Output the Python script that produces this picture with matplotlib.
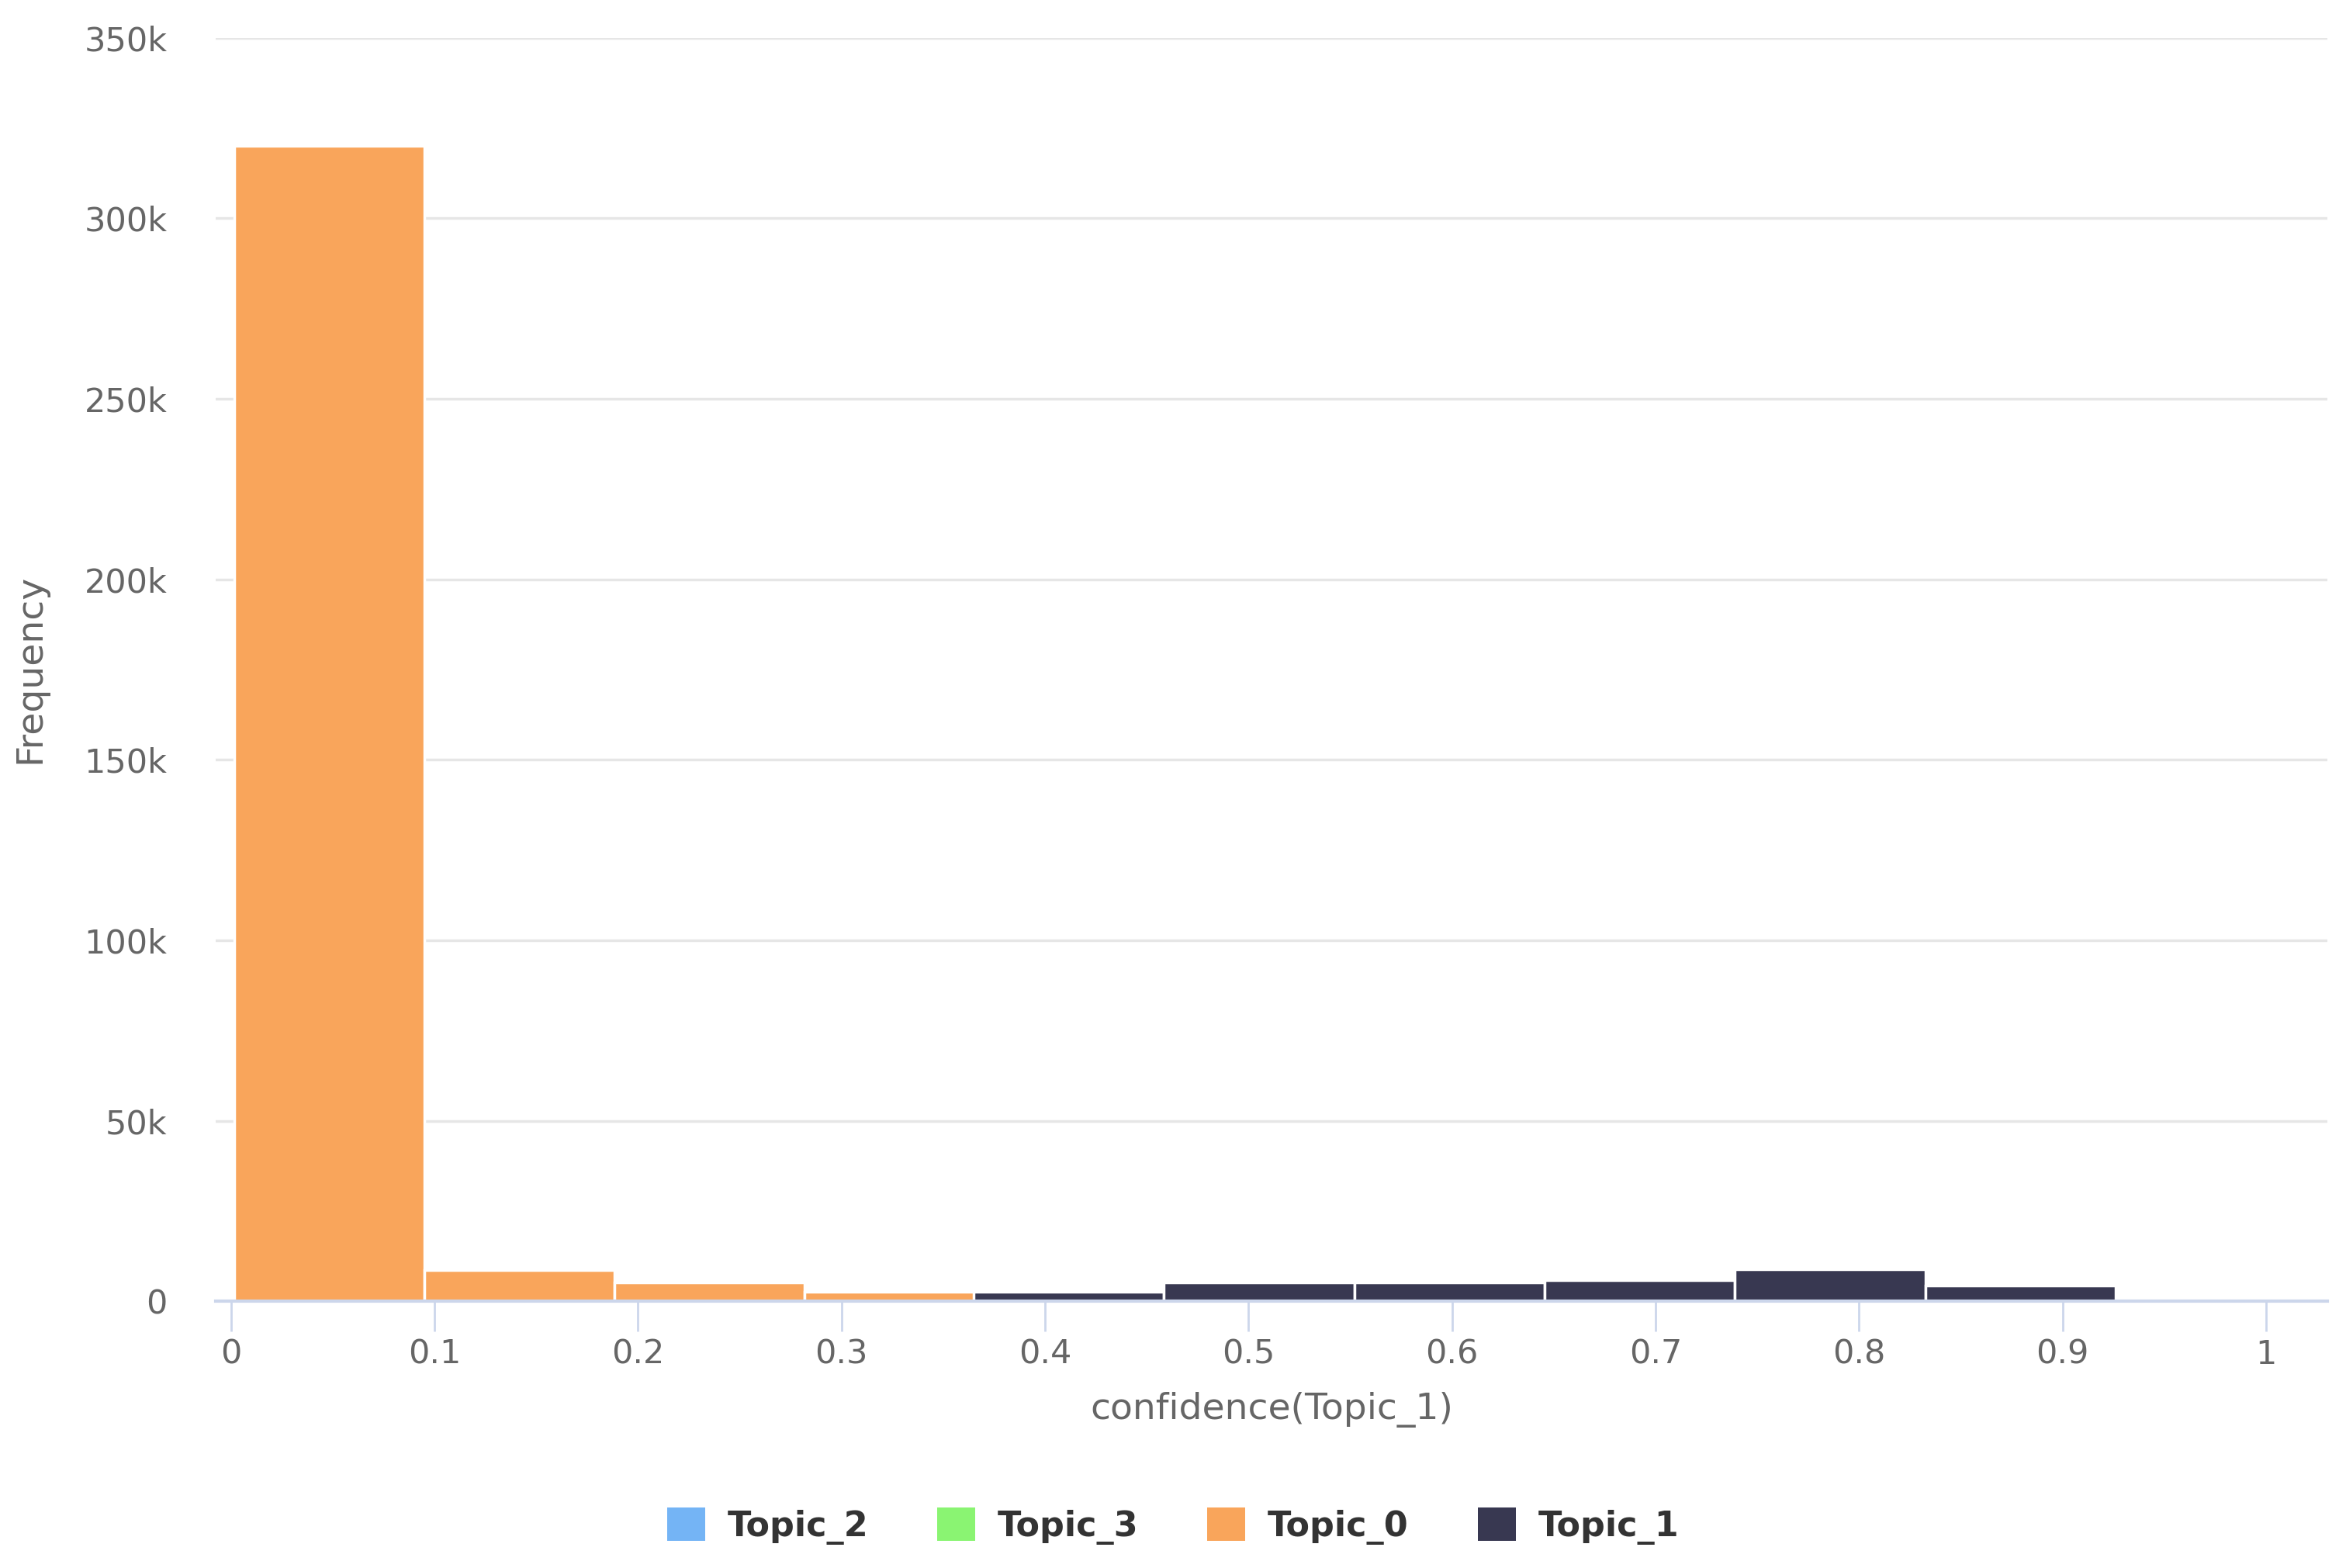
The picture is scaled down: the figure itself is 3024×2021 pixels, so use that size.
import numpy as np
import matplotlib
matplotlib.use('Agg')
import matplotlib.pyplot as plt
from matplotlib.patches import Patch

# histogram bins (left edge of each bin, common width)
bin_width = 0.0935
topic0_left = [0.0015, 0.095, 0.1885, 0.282]
topic0_counts = [320000, 8700, 5300, 2600]
topic1_left = [0.365, 0.4585, 0.552, 0.6455, 0.739, 0.8325]
topic1_counts = [2600, 5300, 5300, 6000, 8800, 4300]

legend_names = ['Topic_2', 'Topic_3', 'Topic_0', 'Topic_1']
legend_colors = ['#74B4F5', '#8AF472', '#F9A55B', '#383851']
col = dict(zip(legend_names, legend_colors))

x_ticks = [0, 0.1, 0.2, 0.3, 0.4, 0.5, 0.6, 0.7, 0.8, 0.9, 1]
x_ticklabels = ['0', '0.1', '0.2', '0.3', '0.4', '0.5', '0.6', '0.7', '0.8', '0.9', '1']
y_ticks = [0, 50000, 100000, 150000, 200000, 250000, 300000, 350000]
y_ticklabels = ['0', '50k', '100k', '150k', '200k', '250k', '300k', '350k']

plt.rcParams['font.family'] = ['DejaVu Sans']

fig = plt.figure(figsize=(30.24, 20.21), dpi=100)
ax = fig.add_axes([0.092, 0.170, 0.900, 0.806])

ax.bar(topic0_left, topic0_counts, width=bin_width, align='edge',
       color=col['Topic_0'], edgecolor='white', linewidth=2.5, zorder=3)
ax.bar(topic1_left, topic1_counts, width=bin_width, align='edge',
       color=col['Topic_1'], edgecolor='white', linewidth=2.5, zorder=4)

ax.set_xlim(-0.0074, 1.030)
ax.set_ylim(0, 350000)

ax.set_yticks(y_ticks)
ax.set_yticklabels(y_ticklabels)
ax.set_xticks(x_ticks)
ax.set_xticklabels(x_ticklabels)

ax.grid(axis='y', color='#E6E6E6', linewidth=2.5, zorder=0)
ax.set_axisbelow(True)
for s in ['top', 'right', 'left']:
    ax.spines[s].set_visible(False)
ax.spines['bottom'].set_color('#CCD6EB')
ax.spines['bottom'].set_linewidth(3)
ax.spines['bottom'].set_zorder(5)

ax.tick_params(axis='y', length=0, pad=45, labelsize=31, labelcolor='#666666')
ax.tick_params(axis='x', length=28, width=2, color='#CCD6EB', pad=6,
               labelsize=31, labelcolor='#666666')

fig.text(0.013, 1 - 862 / 2021, 'Frequency', rotation=90, ha='center', va='center',
         fontsize=34, color='#666666')
fig.text(1639 / 3024, 1 - 1817 / 2021, 'confidence(Topic_1)', ha='center', va='center',
         fontsize=34, color='#666666')

handles = [Patch(facecolor=c, edgecolor='none') for c in legend_colors]
leg = fig.legend(handles, legend_names, loc='center', bbox_to_anchor=(0.5, 1 - 1967 / 2021),
                 ncol=4, frameon=False, fontsize=32, handlelength=1.1, handleheight=1.1,
                 handletextpad=0.65, columnspacing=2.0)
for t in leg.get_texts():
    t.set_color('#333333')
    t.set_fontweight('bold')

fig.savefig('out.png', dpi=100, facecolor='white')
